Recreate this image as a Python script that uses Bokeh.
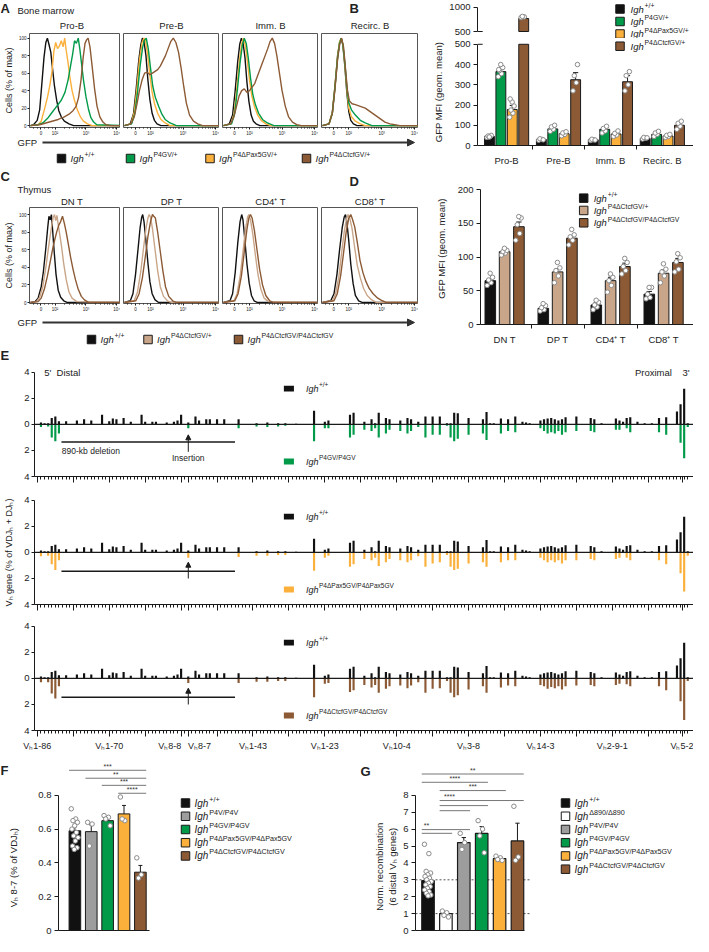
import math
from bokeh.plotting import figure
from bokeh.layouts import row, column
from bokeh.models import Range1d, FixedTicker, Span, Arrow, NormalHead
from bokeh.core.properties import value
from bokeh.embed import file_html
from bokeh.resources import INLINE

FONT = "Liberation Sans"
TXT = "#222222"
EDGE = "#1a1a1a"
BLACK, GREEN, ORANGE, BROWN, TAN, GRAY = "#111111", "#009a49", "#fbb03b", "#8c5a35", "#c9a689", "#9d9d9d"
DOT = "#8a8a8a"
NB = "\u00a0"

# ---------------- DATA ----------------
# Panel A: GFP histograms (x = log10 GFP, y = % of max)
A_TITLES = ["Pro-B", "Pre-B", "Imm. B", "Recirc. B"]
proB_wt = ([1.2,1.3,1.42,1.5,1.58,1.64,1.7,1.75,1.8,1.86,1.92,1.98,2.05,2.12,2.2,2.3,2.45,2.6,4.12],
           [0,1,6,18,52,78,95,100,93,84,64,45,29,17,10,5,2,0,0])
proB_or = ([1.2,1.45,1.55,1.65,1.75,1.83,1.9,1.96,2.02,2.08,2.14,2.2,2.26,2.31,2.36,2.42,2.48,2.55,2.62,2.72,2.82,2.92,3.05,3.2,4.12],
           [0,1,5,18,32,46,62,85,95,88,91,97,90,100,86,72,55,40,30,18,10,5,2,0,0])
proB_gr = ([1.2,1.45,1.6,1.75,1.9,2.05,2.2,2.32,2.42,2.5,2.57,2.63,2.69,2.75,2.8,2.86,2.92,3.0,3.08,3.16,3.25,3.35,4.12],
           [0,1,3,8,15,22,29,38,52,68,82,97,94,100,88,70,52,33,19,9,4,1,0])
proB_br = ([1.2,1.5,1.7,1.9,2.1,2.3,2.45,2.58,2.68,2.76,2.84,2.91,2.97,3.02,3.07,3.13,3.2,3.28,3.36,3.45,3.55,3.65,3.8,4.12],
           [0,1,3,5,7,10,13,17,22,32,52,78,94,98,100,90,68,42,22,10,4,1,0,0])
preB_wt = ([1.2,1.38,1.48,1.56,1.64,1.7,1.75,1.8,1.86,1.92,1.98,2.05,2.12,2.2,2.32,4.12],
           [0,2,14,42,75,92,100,96,80,52,30,14,6,2,0,0])
preB_gr = ([1.2,1.42,1.52,1.6,1.68,1.76,1.82,1.87,1.93,2.0,2.07,2.15,2.25,2.35,2.45,2.6,2.8,4.12],
           [0,2,14,38,68,90,98,100,88,66,45,32,22,13,7,3,0,0])
preB_or = ([1.2,1.4,1.5,1.58,1.66,1.74,1.8,1.85,1.91,1.98,2.05,2.13,2.22,2.32,2.45,2.6,4.12],
           [0,2,15,42,75,95,100,96,82,58,38,24,14,7,3,0,0])
preB_br = ([1.2,1.4,1.5,1.58,1.66,1.74,1.82,1.9,1.98,2.06,2.14,2.22,2.3,2.38,2.46,2.54,2.62,2.7,2.78,2.86,2.94,3.02,3.1,3.2,3.32,3.45,3.6,4.12],
           [0,2,10,24,40,52,60,61,58,60,62,64,68,74,80,88,96,100,95,84,66,45,26,12,5,2,0,0])
immB_wt = ([1.2,1.38,1.48,1.56,1.64,1.7,1.75,1.8,1.86,1.92,1.98,2.05,2.12,2.2,2.32,4.12],
           [0,2,12,40,74,93,100,95,78,50,28,12,5,2,0,0])
immB_gr = ([1.2,1.45,1.55,1.63,1.71,1.78,1.84,1.9,1.96,2.03,2.1,2.18,2.28,2.4,2.55,2.75,4.12],
           [0,2,15,42,72,92,100,94,78,55,36,24,14,7,3,0,0])
immB_or = ([1.2,1.43,1.53,1.61,1.69,1.76,1.81,1.87,1.93,2.0,2.07,2.15,2.25,2.36,2.5,2.65,4.12],
           [0,2,14,42,74,94,100,92,75,52,34,22,12,6,2,0,0])
immB_br = ([1.2,1.42,1.52,1.6,1.68,1.76,1.84,1.92,2.0,2.08,2.16,2.24,2.32,2.4,2.48,2.56,2.63,2.7,2.77,2.84,2.92,3.0,3.1,3.2,3.32,3.45,3.6,4.12],
           [0,2,10,22,34,40,42,38,40,44,48,56,64,72,80,88,96,100,94,80,60,40,22,10,4,1,0,0])
recB_wt = ([1.2,1.4,1.5,1.58,1.66,1.72,1.77,1.82,1.88,1.94,2.0,2.06,2.14,2.25,4.12],
           [0,2,15,45,80,95,100,92,68,38,16,6,2,0,0])
recB_gr = ([1.2,1.4,1.5,1.58,1.66,1.72,1.77,1.82,1.88,1.94,2.0,2.08,2.2,2.35,2.5,2.7,4.12],
           [0,2,14,44,78,94,100,93,72,45,26,18,12,6,3,0,0])
recB_or = ([1.2,1.4,1.5,1.58,1.66,1.72,1.77,1.82,1.88,1.94,2.0,2.08,2.2,2.35,2.5,4.12],
           [0,2,15,45,80,96,100,93,70,42,20,10,5,2,0,0])
recB_br = ([1.2,1.4,1.5,1.58,1.66,1.72,1.78,1.84,1.9,1.96,2.02,2.1,2.2,2.35,2.5,2.65,2.8,2.95,3.1,3.25,3.4,3.55,4.12],
           [0,2,14,42,76,92,100,90,65,40,28,25,24,22,20,16,12,8,4,2,1,0,0])

# Panel C: thymus histograms
C_TITLES = ["DN T", "DP T", "CD4\u207a T", "CD8\u207a T"]
dn_wt = ([1.2,1.35,1.45,1.55,1.62,1.7,1.76,1.8,1.84,1.88,1.92,1.97,2.03,2.1,2.18,2.28,2.4,4.12],
         [0,1,5,18,35,62,85,98,94,100,82,58,32,14,6,2,0,0])
dn_het = ([1.2,1.4,1.5,1.6,1.7,1.8,1.88,1.94,1.98,2.02,2.06,2.12,2.2,2.28,2.36,2.45,2.55,2.7,4.12],
          [0,1,6,18,40,66,85,97,100,93,99,84,66,44,26,12,5,1,0])
dn_hom = ([1.2,1.45,1.55,1.65,1.75,1.85,1.95,2.05,2.12,2.18,2.24,2.3,2.36,2.43,2.5,2.58,2.66,2.75,2.85,2.95,3.1,4.12],
          [0,1,5,15,30,48,66,80,88,92,98,90,80,66,52,38,26,15,7,3,0,0])
dp_wt = ([1.2,1.38,1.46,1.54,1.62,1.68,1.73,1.76,1.8,1.86,1.92,1.98,2.05,2.14,2.25,4.12],
         [0,2,10,32,62,85,97,100,92,70,45,24,10,3,0,0])
dp_het = ([1.2,1.5,1.6,1.7,1.78,1.86,1.92,1.96,2.0,2.06,2.14,2.22,2.3,2.4,2.52,2.65,4.12],
          [0,2,12,35,60,84,96,100,97,84,60,36,18,7,2,0,0])
dp_hom = ([1.2,1.55,1.65,1.75,1.84,1.92,2.0,2.06,2.1,2.15,2.22,2.3,2.38,2.46,2.56,2.68,2.8,4.12],
          [0,2,10,28,52,75,92,100,98,96,80,58,36,18,7,2,0,0])
cd4_wt = ([1.2,1.4,1.48,1.56,1.64,1.71,1.76,1.8,1.86,1.92,1.99,2.06,2.14,2.25,4.12],
          [0,2,10,34,68,92,100,94,70,44,22,8,2,0,0])
cd4_het = ([1.2,1.52,1.62,1.72,1.8,1.88,1.94,1.98,2.03,2.1,2.18,2.26,2.35,2.45,2.58,4.12],
           [0,2,10,32,58,84,97,100,94,78,54,32,15,5,1,0])
cd4_hom = ([1.2,1.55,1.65,1.75,1.84,1.92,1.98,2.03,2.08,2.15,2.23,2.31,2.4,2.5,2.62,2.75,4.12],
           [0,2,10,30,58,83,96,100,96,82,60,38,20,8,2,0,0])
cd8_wt = ([1.2,1.45,1.55,1.64,1.72,1.8,1.86,1.9,1.94,2.0,2.06,2.13,2.2,2.3,2.42,4.12],
          [0,2,10,32,60,85,97,100,92,70,44,22,8,2,0,0])
cd8_het = ([1.2,1.5,1.6,1.7,1.78,1.86,1.93,1.98,2.03,2.1,2.18,2.26,2.35,2.45,2.56,2.7,2.85,4.12],
           [0,2,10,30,56,80,95,100,96,84,62,42,28,16,8,3,0,0])
cd8_hom = ([1.2,1.55,1.65,1.75,1.84,1.92,2.0,2.06,2.11,2.18,2.26,2.34,2.43,2.52,2.62,2.74,2.88,3.02,3.15,4.12],
           [0,2,10,30,56,80,96,100,95,86,68,48,34,24,16,10,5,2,0,0])

# Panel B: GFP MFI, bone marrow
B_GROUPS = ["Pro-B", "Pre-B", "Imm. B", "Recirc. B"]
b_wt = [45, 30, 28, 35]
b_p4gv = [365, 82, 80, 55]
b_pax5 = [178, 58, 57, 47]
b_ctcf = [770, 325, 315, 100]
b_wt_err = [3, 2, 2, 3]
b_p4gv_err = [10, 8, 8, 5]
b_pax5_err = [20, 6, 6, 4]
b_ctcf_err = [15, 35, 30, 12]
b_wt_dots = [[40, 44, 47, 50, 42], [26, 30, 33, 28], [25, 28, 31, 27], [32, 36, 40, 38]]
b_p4gv_dots = [[340, 355, 370, 385, 400, 375], [70, 80, 92, 100], [62, 72, 84, 95], [45, 55, 62, 70]]
b_pax5_dots = [[140, 160, 175, 195, 215, 230], [48, 55, 62, 68], [45, 52, 60, 72], [40, 45, 50, 55]]
b_ctcf_dots = [[790, 805, 815], [270, 310, 345, 400], [270, 300, 345, 365], [80, 95, 110, 120]]

# Panel D: GFP MFI, thymus
D_GROUPS = ["DN T", "DP T", "CD4\u207a T", "CD8\u207a T"]
d_wt = [65, 24, 29, 45]
d_het = [108, 78, 65, 76]
d_hom = [145, 128, 86, 92]
d_wt_err = [3, 2, 3, 4]
d_het_err = [3, 5, 5, 5]
d_hom_err = [7, 4, 5, 6]
d_wt_dots = [[58, 62, 66, 70, 76], [20, 22, 25, 28, 31], [22, 26, 29, 33, 36], [38, 40, 45, 55, 55]]
d_het_dots = [[103, 106, 108, 110, 113], [62, 72, 80, 84, 92], [48, 58, 65, 70, 75], [62, 72, 78, 82, 90]]
d_hom_dots = [[125, 135, 148, 158, 160], [118, 125, 130, 133, 141], [75, 80, 86, 92, 98], [78, 82, 93, 99, 105]]

# Panel E: VH gene usage (gene position index along the locus, % of VDJ + DJ)
vh_pos = [1,2,3,4,5,6, 8,11,13,15,18, 20,21,22,24,26, 29,30,32,33,36, 38,39,40,42,44, 45,47,48,50,52,
          56,61,64,67,69, 72,77,80,81,87, 88,91,93,94,95, 97,98,101,103,104, 106,108,110,112,114,
          115,116,117,120,124, 125,126,127,129,131, 133,135,136,137,140, 141,142,143,144,145,
          146,147,150,154,155, 157,161,162,163,164, 165,167,169,171,173, 175,178,179,180,181]
vh_wt = [0.15,0.1,0.1,0.5,0.6,0.25, 0.25,0.3,0.4,0.3,0.75, 0.25,0.45,0.4,0.5,0.2, 0.75,0.2,0.2,0.2,0.15,
         0.2,0.3,0.75,0.15,0.6, 0.3,0.4,0.4,0.4,0.4, 0.4,0.1,0.15,0.1,0.1, 0.05,1.05,0.2,0.3,0.75,
         0.9,0.2,0.4,0.1,0.9, 0.5,0.4,0.3,0.5,0.4, 0.2,0.6,0.6,0.6,0.1, 0.1,0.9,0.85,0.5,0.4,
         0.95,0.1,0.1,0.45,0.4, 0.6,0.2,0.15,0.1,0.3, 0.4,0.45,0.5,0.4,0.3, 0.4,0.55,0.6,0.5,0.4,
         0.1,0.45,0.3,0.2,0.5, 0.55,0.2,0.1,0.1,0.5, 0.55,1.0,1.55,2.75,0.1]
vh_p4gv = [0.2,0,0.15,1.0,1.3,0.7, 0,0,0,0,0, 0,0,0,0,0, 0,0,0,0,0, 0,0,0,0.3,0, 0,0,0,0,0,
           0.3,0.15,0.2,0.15,0.1, 0,1.3,0.3,0.3,1.0, 0.8,0.4,0.5,0.3,1.0, 0.7,0.4,0.5,0.7,0.5,
           0.2,1.0,0.8,0.8,0.1, 1.0,1.3,1.1,0.8,0.7, 1.2,0,0,0.7,0.5, 0.6,0,0,0,0.3,
           0.5,0.7,0.6,0.7,0.5, 0.8,0.6,0.5,0.5,0.6, 0,0.4,0.4,0,0.3, 0.6,0,0,0,0.6, 0.8,0,1.4,2.6,0.2]
vh_pax5 = [0.3,0,0.25,0.9,1.35,0.6, 0,0,0,0,0, 0,0,0,0,0, 0,0,0,0,0, 0,0,0,0.4,0, 0,0,0,0,0,
           0.35,0.25,0.25,0.2,0.2, 0,1.4,0.4,0.25,1.1, 0.9,0.5,0.6,0.4,1.05, 0.75,0.5,0.6,0.75,0.6,
           0.3,1.1,0.85,0.75,0.2, 1.1,1.35,1.25,0.85,0.75, 1.1,0,0,0.75,0.6, 0.6,0,0,0,0.4,
           0.6,0.75,0.6,0.75,0.6, 0.85,0.6,0.6,0.5,0.6, 0,0.5,0.4,0,0.4, 0.6,0,0,0,0.6, 0.9,0,1.6,3.0,0.25]
vh_ctcf = [0.3,0,0.3,1.15,1.55,0.6, 0,0,0,0,0, 0,0,0,0,0, 0,0,0,0,0, 0,0,0,0.35,0, 0,0,0,0,0,
           0.35,0.25,0.25,0.2,0.2, 0,1.45,0.4,0.35,1.05, 0.9,0.5,0.7,0.5,1.1, 0.8,0.6,0.55,0.75,0.55,
           0.3,1.1,0.8,0.75,0.2, 1.1,1.45,1.3,0.85,0.6, 1.1,0,0,0.7,0.55, 0.6,0,0,0,0.5,
           0.6,0.8,0.65,0.75,0.6, 0.85,0.6,0.55,0.5,0.6, 0,0.5,0.4,0,0.45, 0.6,0,0,0,0.6, 0.9,0,1.75,3.2,0.2]
VH_LAST_TICK = 179.5
vh_tick_labels = {0: "V\u20951-86", 20: "V\u20951-70", 40: "V\u20958-8" + NB * 9,
                  42: NB * 9 + "V\u20958-7", 60: "V\u20951-43", 80: "V\u20951-23",
                  100: "V\u209510-4", 120: "V\u20953-8", 140: "V\u209514-3", 160: "V\u20952-9-1",
                  VH_LAST_TICK: "V\u20955-2"}
deletion_span = (6.7, 55)
insertion_pos = 42

# Panel F: VH8-7 usage
f_vals = [0.59, 0.585, 0.65, 0.69, 0.345]
f_err = [0.025, 0.04, 0.02, 0.05, 0.04]
f_dots = [[0.72, 0.66, 0.65, 0.64, 0.62, 0.60, 0.58, 0.56, 0.55, 0.53, 0.50, 0.49, 0.48],
          [0.64, 0.63, 0.50], [0.68, 0.67, 0.66, 0.62], [0.79, 0.65, 0.66], [0.43, 0.33, 0.31]]
f_sig = [(0, 4, 0.948, "***"), (1, 4, 0.901, "**"), (2, 4, 0.859, "***"), (3, 4, 0.812, "****")]

# Panel G: normalized recombination
g_vals = [2.95, 1.0, 5.2, 5.75, 4.25, 5.3]
g_err = [0.2, 0.1, 0.3, 0.4, 0.1, 1.05]
g_dots = [[5.1, 4.55, 3.5, 3.4, 3.3, 3.2, 3.1, 3.0, 2.9, 2.8, 2.7, 2.6, 2.5, 2.4, 2.3, 2.2, 2.1, 2.05],
          [1.15, 1.05, 0.9, 0.8], [5.75, 5.2, 4.8], [6.5, 6.0, 5.6, 4.6], [4.4, 4.3, 4.2, 4.15], [7.35, 4.35, 4.15]]
g_sig = [(0, 5, 9.26, "**", None), (0, 3, 8.77, "****", None), (1, 4, 8.28, "***", None),
         (1, 5, 7.69, "****", 1.2), (1, 3, 7.39, "", None), (1, 2, 7.09, "", None),
         (0, 2, 5.97, "**", -0.085), (0, 1, 5.75, "", None)]
g_refs = [3, 1]

# ---------------- HELPERS ----------------
def fig(w, h, xr, yr, left=0, right=0, top=0, bottom=0, xaxis=True, yaxis=True):
    p = figure(width=w, height=h, x_range=xr, y_range=yr, output_backend="svg", toolbar_location=None,
               x_axis_location="below" if xaxis else None, y_axis_location="left" if yaxis else None,
               min_border_left=left, min_border_right=right, min_border_top=top, min_border_bottom=bottom)
    p.xgrid.visible = False
    p.ygrid.visible = False
    p.outline_line_color = None
    return p


def style_axis(ax, fs=9.5, tick=4):
    ax.axis_line_color = EDGE
    ax.major_tick_line_color = EDGE
    ax.minor_tick_line_color = EDGE
    ax.major_tick_in = 0
    ax.major_tick_out = tick
    ax.minor_tick_in = 0
    ax.minor_tick_out = 0
    ax.major_label_standoff = 3
    ax.major_label_text_font = FONT
    ax.major_label_text_font_size = f"{fs}px"
    ax.major_label_text_color = TXT
    ax.axis_label_text_font = FONT
    ax.axis_label_text_font_size = f"{fs}px"
    ax.axis_label_text_font_style = "normal"
    ax.axis_label_text_color = TXT


def canvas(w, h):
    return fig(w, h, Range1d(0, w), Range1d(h, 0), xaxis=False, yaxis=False)


def txt(p, x, y, s, fs=9.5, style="normal", align="left", base="middle", color=TXT, dx=0, dy=0, angle=0.0):
    p.text(x=[x], y=[y], text=[s], x_offset=dx, y_offset=dy, text_font=value(FONT),
           text_font_size=f"{fs}px", text_font_style=style, text_align=align,
           text_baseline=base, text_color=color, angle=angle)


def vtxt(p, x, y, s, fs=9.5):
    txt(p, x, y, s, fs, align="center", base="middle", angle=math.pi / 2)


def leg(p, x, y, color, sup, fs=9.5, dx=9, size=8.5):
    p.scatter(x=[x], y=[y], marker="square", size=size, fill_color=color, line_color=EDGE, line_width=1)
    txt(p, x, y, "Igh", fs, "italic", dx=dx)
    txt(p, x, y, sup, fs * 0.72, dx=dx + 1.39 * fs + 0.8, dy=-0.4 * fs)


def jit(n, spread):
    return [spread * (((k * 0.618034) % 1.0) * 2 - 1) for k in range(n)]


def whisk(p, xs, tops, errs, cap):
    ys = [t + e for t, e in zip(tops, errs)]
    p.segment(x0=xs, y0=tops, x1=xs, y1=ys, line_color=EDGE, line_width=1)
    p.segment(x0=[x - cap for x in xs], y0=ys, x1=[x + cap for x in xs], y1=ys, line_color=EDGE, line_width=1)


def dots(p, x, vals, spread, size=4.5):
    offs = jit(len(vals), spread)
    p.scatter(x=[x + o for o in offs], y=vals, marker="circle", size=size,
              fill_color="white", line_color=DOT, line_width=1)


HX = (1.17, 4.12)
H_MINOR = [1.3, 1.42, 1.66, 1.78, 1.9] + [2 + math.log10(k) for k in range(2, 10)] + \
          [3 + math.log10(k) for k in range(2, 10)]


def hist(curves, colors, w, left, frame_h, bottom, yr, first):
    p = fig(w, frame_h + bottom, Range1d(*HX), Range1d(*yr), left=left, bottom=bottom, yaxis=first)
    p.outline_line_color = "#555555"
    for (xs, ys), c in zip(curves, colors):
        p.line(xs, ys, line_color=c, line_width=1.4)
    ax = p.xaxis[0]
    style_axis(ax, fs=4.5, tick=2)
    ax.axis_line_color = None
    ax.ticker = FixedTicker(ticks=[1.54, 2, 3, 4], minor_ticks=H_MINOR)
    ax.major_label_overrides = {1.54: "0", 2: "10\u00b2", 3: "10\u00b3", 4: "10\u2074"}
    ax.minor_tick_out = 1
    ax.major_label_standoff = 1
    if first:
        ay = p.yaxis[0]
        style_axis(ay, fs=4.5, tick=2)
        ay.axis_line_color = None
        ay.ticker = FixedTicker(ticks=[0, 20, 40, 60, 80, 100])
        ay.major_label_standoff = 1
        ay.axis_label = "Cells (% of max)"
        ay.axis_label_text_font_size = "9px"
        ay.axis_label_standoff = 2
    return p


def hist_block(title_word, titles, letter, letter2, panels, colors, head_h, frame_h, bottom, yr,
               gfp_h, gfp_y, leg_h, leg_y, leg_xs, leg_cols, leg_sups, title_y, word_y, letter2_y):
    widths = [120, 99, 99, 100]
    lefts = [23, 3, 3, 3]
    centers = [71.5, 171, 270, 369.5]
    head = canvas(418, head_h)
    txt(head, 0, 0, letter, 13, "bold", base="top")
    txt(head, 17, word_y, title_word, 9.5)
    for t, cx in zip(titles, centers):
        txt(head, cx, title_y, t, 9.5, align="center")
    txt(head, 349, letter2_y, letter2, 13, "bold", base="top")
    hs = [hist(cv, colors, w, l, frame_h, bottom, yr, i == 0)
          for i, (cv, w, l) in enumerate(zip(panels, widths, lefts))]
    g = canvas(418, gfp_h)
    txt(g, 17, gfp_y, "GFP", 9.5)
    g.add_layout(Arrow(end=NormalHead(size=7, fill_color="#333333", line_color="#333333"),
                       x_start=42, y_start=gfp_y, x_end=414, y_end=gfp_y,
                       line_color="#333333", line_width=1.8))
    lg = canvas(418, leg_h)
    for x, c, s in zip(leg_xs, leg_cols, leg_sups):
        leg(lg, x, leg_y, c, s)
    return column(head, row(*hs), g, lg)


def bar_axes_x(p, groups, fs=9.5):
    ax = p.xaxis[0]
    style_axis(ax, fs)
    ax.ticker = FixedTicker(ticks=list(range(len(groups))),
                            minor_ticks=[i + 0.5 for i in range(len(groups) - 1)])
    ax.major_label_overrides = {i: g for i, g in enumerate(groups)}
    ax.major_tick_out = 0
    ax.minor_tick_out = 4
    ax.major_label_standoff = 5


# ---------------- PANEL A ----------------
A_block = hist_block("Bone marrow", A_TITLES, "A", "B",
                     [[proB_wt, proB_or, proB_gr, proB_br], [preB_wt, preB_or, preB_gr, preB_br],
                      [immB_wt, immB_or, immB_gr, immB_br], [recB_wt, recB_or, recB_gr, recB_br]],
                     [BLACK, ORANGE, GREEN, BROWN], 33, 95, 10, (-2.2, 105.3),
                     12, 4, 18, 8, [61, 130, 209.5, 306], [BLACK, GREEN, ORANGE, BROWN],
                     ["+/+", "P4GV/+", "P4\u0394Pax5GV/+", "P4\u0394CtcfGV/+"], 25, 10, 0)

# ---------------- PANEL B ----------------
B_XR = Range1d(-0.56, 3.6)
b_top = fig(275, 38, B_XR, Range1d(354.2, 1145.8), left=59, xaxis=False)
b_low = fig(275, 130, B_XR, Range1d(0, 528.6), left=59, bottom=19)
for p, ticks, bounds in [(b_top, [500, 1000], (500, 1000)), (b_low, [0, 100, 200, 300, 400, 500], (0, 500))]:
    ay = p.yaxis[0]
    style_axis(ay)
    ay.ticker = FixedTicker(ticks=ticks)
    ay.bounds = bounds
    p.segment(x0=[-0.56], y0=[500], x1=[-0.46], y1=[500], line_color=EDGE, line_width=1)
b_low.yaxis[0].axis_label = "GFP MFI (geom. mean)"
b_low.yaxis[0].axis_label_standoff = 8
bar_axes_x(b_low, B_GROUPS)
B_OFFS = [-0.33, -0.11, 0.11, 0.33]
for off, vals, errs, dl, col in zip(B_OFFS, [b_wt, b_p4gv, b_pax5, b_ctcf],
                                    [b_wt_err, b_p4gv_err, b_pax5_err, b_ctcf_err],
                                    [b_wt_dots, b_p4gv_dots, b_pax5_dots, b_ctcf_dots],
                                    [BLACK, GREEN, ORANGE, BROWN]):
    xs = [i + off for i in range(len(vals))]
    b_low.vbar(x=xs, top=[min(v, 500) for v in vals], width=0.19, fill_color=col, line_color=EDGE, line_width=1)
    hi = [(x, v, e) for x, v, e in zip(xs, vals, errs) if v > 500]
    lo = [(x, v, e) for x, v, e in zip(xs, vals, errs) if v <= 500]
    if hi:
        b_top.vbar(x=[h[0] for h in hi], bottom=500, top=[h[1] for h in hi], width=0.19,
                   fill_color=col, line_color=EDGE, line_width=1)
        whisk(b_top, [h[0] for h in hi], [h[1] for h in hi], [h[2] for h in hi], 0.05)
    if lo:
        whisk(b_low, [h[0] for h in lo], [h[1] for h in lo], [h[2] for h in lo], 0.05)
    for x, dv in zip(xs, dl):
        hi_d = [d for d in dv if d > 500]
        lo_d = [d for d in dv if d <= 500]
        if hi_d:
            dots(b_top, x, hi_d, 0.05)
        if lo_d:
            dots(b_low, x, lo_d, 0.05)
leg(b_top, 2.185, 968.7, BLACK, "+/+", dx=10.5)
leg(b_top, 2.185, 708.4, GREEN, "P4GV/+", dx=10.5)
leg(b_top, 2.185, 448.0, ORANGE, "P4\u0394Pax5GV/+", dx=10.5)
leg(b_low, 2.185, 490.5, BROWN, "P4\u0394CtcfGV/+", dx=10.5)
B_block = column(b_top, b_low)

# ---------------- PANEL C ----------------
C_block = hist_block("Thymus", C_TITLES, "C", "D",
                     [[dn_wt, dn_het, dn_hom], [dp_wt, dp_het, dp_hom],
                      [cd4_wt, cd4_het, cd4_hom], [cd8_wt, cd8_het, cd8_hom]],
                     [BLACK, TAN, BROWN], 39, 98, 9, (-1.1, 108),
                     16, 8, 17, 9, [91, 147.5, 238], [BLACK, TAN, BROWN],
                     ["+/+", "P4\u0394CtcfGV/+", "P4\u0394CtcfGV/P4\u0394CtcfGV"], 33, 21, 5)

# ---------------- PANEL D ----------------
d_fig = fig(275, 179, Range1d(-0.455, 3.564), Range1d(0, 225.4), left=62, top=4, bottom=15)
ay = d_fig.yaxis[0]
style_axis(ay)
ay.ticker = FixedTicker(ticks=[0, 50, 100, 150, 200])
ay.bounds = (0, 200)
ay.axis_label = "GFP MFI (geom. mean)"
ay.axis_label_standoff = 8
bar_axes_x(d_fig, D_GROUPS)
for off, vals, errs, dl, col in zip([-0.27, 0, 0.27], [d_wt, d_het, d_hom], [d_wt_err, d_het_err, d_hom_err],
                                    [d_wt_dots, d_het_dots, d_hom_dots], [BLACK, TAN, BROWN]):
    xs = [i + off for i in range(len(vals))]
    d_fig.vbar(x=xs, top=vals, width=0.2, fill_color=col, line_color=EDGE, line_width=1)
    whisk(d_fig, xs, vals, errs, 0.05)
    for x, dv in zip(xs, dl):
        dots(d_fig, x, dv, 0.06)
leg(d_fig, 1.492, 187.4, BLACK, "+/+", dx=10)
leg(d_fig, 1.492, 169.1, TAN, "P4\u0394CtcfGV/+", dx=10)
leg(d_fig, 1.492, 150.8, BROWN, "P4\u0394CtcfGV/P4\u0394CtcfGV", dx=10)

# ---------------- PANEL E ----------------
E_XR = Range1d(-0.8, 182.6)
E_MAJOR = list(range(0, 171, 10)) + [42, VH_LAST_TICK]


def e_sub(h, top_val, bottom, mut, mcolor, sup, labels, first=False):
    p = fig(672, h, E_XR, Range1d(-4, top_val), left=11, bottom=bottom)
    p.vbar(x=vh_pos, top=vh_wt, bottom=0, width=0.6, fill_color=BLACK, line_color=None)
    p.vbar(x=vh_pos, top=0, bottom=[-v for v in mut], width=0.6, fill_color=mcolor, line_color=None)
    p.add_layout(Span(location=0, dimension="width", line_color=EDGE, line_width=1.3))
    ay = p.yaxis[0]
    style_axis(ay)
    ay.major_tick_out = 3
    ay.major_label_standoff = 2
    ay.ticker = FixedTicker(ticks=[-4, -2, 0, 2, 4])
    ay.major_label_overrides = {-4: "4", -2: "2", 0: "0", 2: "2", 4: "4"}
    ay.bounds = (-4, 4)
    ax = p.xaxis[0]
    style_axis(ax, 9)
    ax.ticker = FixedTicker(ticks=E_MAJOR, minor_ticks=list(range(0, 182)))
    ov = {t: "" for t in E_MAJOR}
    ov.update(labels)
    ax.major_label_overrides = ov
    ax.major_tick_out = 6
    ax.minor_tick_out = 3
    ax.major_label_standoff = 4
    # deletion / insertion annotation
    ly = -1.35 if first else -1.45
    p.segment(x0=[deletion_span[0]], y0=[ly], x1=[deletion_span[1]], y1=[ly], line_color=EDGE, line_width=1.5)
    if first:
        p.add_layout(Arrow(end=NormalHead(size=5, fill_color=EDGE, line_color=EDGE), x_start=insertion_pos,
                           y_start=-2.1, x_end=insertion_pos, y_end=-0.8, line_color=EDGE, line_width=1))
        txt(p, deletion_span[0] + 0.1, -1.65, "890-kb deletion", 8.5, base="top")
        txt(p, insertion_pos, -2.2, "Insertion", 8.5, align="center", base="top")
        txt(p, 1.9, 4.0, "5'" + NB * 2 + "Distal", 9.5)
        txt(p, 181.5, 4.0, "Proximal" + NB * 4 + "3'", 9.5, align="right")
    else:
        p.add_layout(Arrow(end=NormalHead(size=5, fill_color=EDGE, line_color=EDGE), x_start=insertion_pos,
                           y_start=-2.0, x_end=insertion_pos, y_end=-0.75, line_color=EDGE, line_width=1))
    # in-plot legend
    for yy, c, s in [(2.75, BLACK, "+/+"), (-2.85, mcolor, sup)]:
        p.rect(x=[70], y=[yy], width=2.8, height=0.45, fill_color=c, line_color=None)
        txt(p, 70, yy, "Igh", 9, "italic", dx=17)
        txt(p, 70, yy, s, 6.5, dx=17 + 12.5 + 0.6, dy=-3.8)
    return p


e_head = canvas(693, 19)
txt(e_head, 0, 0, "E", 13, "bold", base="top")
e1 = e_sub(130, 4.45, 20, vh_p4gv, GREEN, "P4GV/P4GV", {}, first=True)
e2 = e_sub(126, 4.3, 18, vh_pax5, ORANGE, "P4\u0394Pax5GV/P4\u0394Pax5GV", {})
e3 = e_sub(139, 4.3, 31, vh_ctcf, BROWN, "P4\u0394CtcfGV/P4\u0394CtcfGV", vh_tick_labels)
e_left = canvas(21, 395)
vtxt(e_left, 8, 186, "V\u2095 gene (% of VDJ\u2095 + DJ\u2095)", 9)
E_block = column(e_head, row(e_left, column(e1, e2, e3)))

# ---------------- PANEL F ----------------
F_COLS = [BLACK, GRAY, GREEN, ORANGE, BROWN]
f_left = canvas(35, 175)
txt(f_left, 0, 2, "F", 13, "bold", base="top")
vtxt(f_left, 13, 110, "V\u2095 8-7 (% of VDJ\u2095)")
f_fig = fig(117, 175, Range1d(-1.0, 4.74), Range1d(0, 1.0), left=20, bottom=6)
ay = f_fig.yaxis[0]
style_axis(ay)
ay.ticker = FixedTicker(ticks=[0, 0.2, 0.4, 0.6, 0.8])
ay.major_label_overrides = {0: "0", 0.2: "0.2", 0.4: "0.4", 0.6: "0.6", 0.8: "0.8"}
ay.bounds = (0, 0.8)
ax = f_fig.xaxis[0]
style_axis(ax)
ax.ticker = FixedTicker(ticks=[])
ax.bounds = (-1.0, 4.56)
ax.major_tick_out = 0
fx = list(range(len(f_vals)))
f_fig.vbar(x=fx, top=f_vals, width=0.71, fill_color=F_COLS, line_color=EDGE, line_width=1)
whisk(f_fig, fx, f_vals, f_err, 0.12)
for x, dv in zip(fx, f_dots):
    dots(f_fig, x, dv, 0.22)
for i, j, y, s in f_sig:
    x0, x1 = i - 0.355, j + 0.355
    f_fig.segment(x0=[x0], y0=[y], x1=[x1], y1=[y], line_color="#777777", line_width=1)
    txt(f_fig, (x0 + x1) / 2, y, s, 7, align="center", base="bottom", color="#333333", dy=-0.5)
f_leg = canvas(198, 175)
for k, (c, s) in enumerate(zip(F_COLS, ["+/+", "P4V/P4V", "P4GV/P4GV", "P4\u0394Pax5GV/P4\u0394Pax5GV",
                                         "P4\u0394CtcfGV/P4\u0394CtcfGV"])):
    leg(f_leg, 33, 43 + 13.7 * k, c, s, fs=10)

# ---------------- PANEL G ----------------
G_COLS = [BLACK, "#ffffff", GRAY, GREEN, ORANGE, BROWN]
g_left = canvas(50, 175)
txt(g_left, 10, 3, "G", 13, "bold", base="top")
vtxt(g_left, 29, 109, "Norm. recombination")
vtxt(g_left, 42, 109, "(6 distal V\u2095 genes)")
g_fig = fig(137, 175, Range1d(-0.7, 6.12), Range1d(0, 10.0), left=15, bottom=6)
ay = g_fig.yaxis[0]
style_axis(ay)
ay.ticker = FixedTicker(ticks=list(range(0, 9)))
ay.bounds = (0, 8)
ax = g_fig.xaxis[0]
style_axis(ax)
ax.ticker = FixedTicker(ticks=[])
ax.bounds = (-0.7, 5.4)
ax.major_tick_out = 0
for r in g_refs:
    g_fig.segment(x0=[-0.7], y0=[r], x1=[5.75], y1=[r], line_color="#555555", line_width=1, line_dash="2 2")
gx = list(range(len(g_vals)))
g_fig.vbar(x=gx, top=g_vals, width=0.7, fill_color=G_COLS, line_color=EDGE, line_width=1.2)
whisk(g_fig, gx, g_vals, g_err, 0.12)
for x, dv in zip(gx, g_dots):
    dots(g_fig, x, dv, 0.2)
for i, j, y, s, tx in g_sig:
    x0, x1 = i - 0.35, j + 0.35
    g_fig.segment(x0=[x0], y0=[y], x1=[x1], y1=[y], line_color="#777777", line_width=1)
    if s:
        txt(g_fig, (x0 + x1) / 2 if tx is None else tx, y, s, 7, align="center", base="bottom",
            color="#333333", dy=-0.5)
g_leg = canvas(156, 175)
for k, (c, s) in enumerate(zip(G_COLS, ["+/+", "\u0394890/\u0394890", "P4V/P4V", "P4GV/P4GV",
                                         "P4\u0394Pax5GV/P4\u0394Pax5GV", "P4\u0394CtcfGV/P4\u0394CtcfGV"])):
    leg(g_leg, 28, 43 + 13.7 * k, c, s, fs=10)

# ---------------- LAYOUT ----------------
root = column(row(A_block, B_block), row(C_block, d_fig), E_block,
              row(f_left, f_fig, f_leg, g_left, g_fig, g_leg))
open("out.html", "w").write(file_html(root, INLINE))
